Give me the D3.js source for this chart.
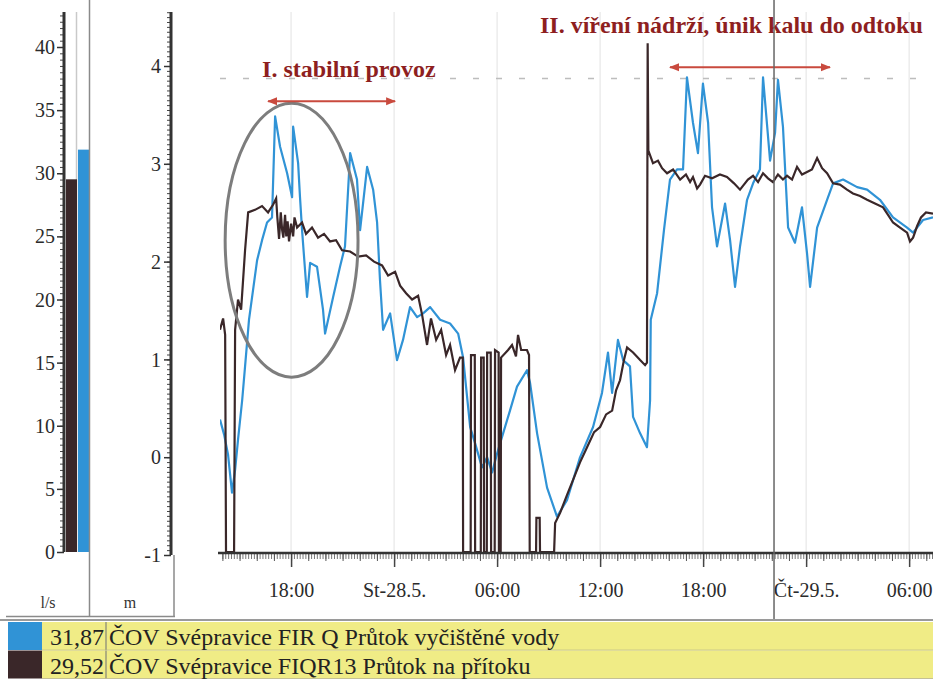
<!DOCTYPE html>
<html>
<head>
<meta charset="utf-8">
<script src="https://cdn.jsdelivr.net/npm/d3@7"></script>
<style>
  body { margin: 0; background: #fff; }
  text { font-family: "Liberation Serif", "DejaVu Serif", serif; }
</style>
</head>
<body>
<svg id="chart" width="933" height="679"></svg>
<script>
// [hours from 27.5. 00:00, l/s]
const inflowPoints = [
  [13.86,17.6],[14.04,18.5],[14.16,17.2],[14.21,0],[14.68,0],[14.74,17.6],[14.91,20.0],[15.09,19.2],
  [15.32,23.9],[15.50,26.9],[15.90,27.1],[16.31,27.4],[16.66,26.9],[16.95,27.5],[17.13,28.0],[17.20,26.5],
  [17.30,24.8],[17.40,26.9],[17.48,25.5],[17.55,24.9],[17.65,26.7],[17.72,25.0],[17.80,26.2],[17.88,24.6],
  [18.00,26.0],[18.12,25.0],[18.20,26.5],[18.35,25.7],[18.64,26.1],[18.87,25.2],[19.22,25.7],
  [19.57,24.9],[19.92,25.2],[20.27,24.6],[20.62,24.7],[20.97,23.9],[21.44,23.8],[21.90,23.4],[22.37,23.5],
  [22.83,23.0],[23.30,22.7],[23.65,21.9],[24.06,22.2],[24.35,21.1],[24.70,20.5],[25.05,20.0],[25.40,20.3],
  [25.63,18.8],[25.92,16.4],[26.15,18.5],[26.45,16.8],[26.74,17.6],[27.03,15.6],[27.26,16.4],[27.55,14.4],
  [27.84,15.4],[28.00,15.4],[28.02,0],[28.46,0],[28.48,15.6],[28.70,15.6],[28.72,0],[29.05,0],
  [29.07,15.4],[29.22,15.4],[29.24,0],[29.40,0],[29.42,15.8],[29.63,15.8],[29.65,0],[29.86,0],
  [29.88,16.0],[30.09,15.8],[30.11,0],[30.21,0],[30.23,15.4],[30.64,16.0],[30.87,16.4],[31.10,15.5],
  [31.22,17.2],[31.40,16.0],[31.74,16.0],[31.86,15.6],[31.90,0],[32.27,0],[32.29,2.7],[32.48,2.7],
  [32.50,0],[33.32,0],[33.38,2.3],[33.67,3.1],[34.07,4.5],[34.42,5.7],[34.83,7.1],[35.24,8.3],
  [35.65,9.5],[36.00,9.9],[36.35,10.9],[36.70,11.2],[36.93,12.8],[37.16,13.6],[37.39,15.2],[37.57,16.2],
  [37.92,15.8],[38.33,15.2],[38.62,14.8],[38.73,15.0],[38.77,40.3],[38.81,31.8],[39.08,30.8],[39.37,31.0],
  [39.61,30.4],[39.90,30.0],[40.25,30.3],[40.66,29.5],[41.00,29.9],[41.24,29.3],[41.41,29.7],[41.65,28.8],
  [41.82,29.1],[42.11,29.8],[42.52,29.6],[42.98,29.9],[43.39,29.7],[43.80,29.2],[44.15,28.7],[44.32,29.0],
  [44.61,29.5],[44.91,29.8],[45.20,29.3],[45.49,30.0],[45.78,29.6],[46.07,29.3],[46.36,29.9],[46.65,29.5],
  [46.89,29.8],[47.18,29.5],[47.47,30.5],[47.76,29.9],[48.05,30.1],[48.34,30.3],[48.64,31.2],[48.93,30.4],
  [49.22,30.0],[49.57,29.2],[49.97,29.1],[50.38,28.7],[50.73,28.4],[51.14,28.2],[51.55,27.9],[52.01,27.6],
  [52.48,27.3],[52.77,26.7],[53.06,26.1],[53.47,25.7],[53.88,25.3],[54.05,24.6],[54.23,24.9],[54.46,25.8],
  [54.69,26.5],[54.98,26.9],[55.39,26.8]
];

const outflowPoints = [
  [13.86,10.5],[14.10,9.3],[14.33,7.7],[14.56,4.7],[14.74,6.5],[14.91,8.9],[15.15,12.0],[15.32,14.7],
  [15.55,18.4],[15.79,20.8],[16.02,23.1],[16.31,24.7],[16.60,26.1],[16.89,26.5],[17.07,34.5],[17.36,32.1],
  [17.77,30.0],[18.06,28.1],[18.12,33.7],[18.41,30.8],[18.52,28.1],[18.64,25.5],[18.93,20.2],[19.11,22.9],
  [19.51,22.6],[19.86,19.2],[19.98,17.3],[20.45,20.2],[20.85,22.6],[21.14,24.2],[21.44,31.6],[21.84,29.5],
  [22.02,25.5],[22.43,30.5],[22.78,28.7],[23.01,26.1],[23.18,21.5],[23.36,17.6],[23.77,18.9],[24.17,15.2],
  [24.52,16.8],[24.93,19.4],[25.34,18.6],[25.69,18.9],[26.10,19.4],[26.68,18.4],[27.26,18.1],[27.73,17.3],
  [28.02,15.4],[28.43,9.9],[28.72,8.6],[29.12,6.7],[29.42,7.5],[29.71,6.3],[30.00,7.8],[30.35,9.4],
  [30.75,11.2],[31.16,13.1],[31.74,14.4],[31.92,13.4],[32.33,9.4],[32.91,5.1],[33.49,2.8],[34.07,4.1],
  [34.83,7.5],[35.59,9.9],[36.11,12.6],[36.46,15.8],[36.70,12.6],[37.04,16.8],[37.34,15.2],[37.74,14.7],
  [37.92,10.7],[38.33,9.4],[38.73,8.3],[38.91,12.0],[38.95,18.4],[39.32,20.5],[39.72,25.5],[40.07,29.5],
  [40.48,30.3],[40.83,30.3],[41.06,37.6],[41.41,34.0],[41.70,31.6],[41.99,37.1],[42.29,34.0],[42.52,27.3],
  [42.81,24.2],[43.28,27.6],[43.57,24.7],[43.86,21.0],[44.15,24.2],[44.56,27.9],[44.91,29.2],[45.31,30.3],
  [45.49,37.6],[45.90,31.0],[46.19,33.2],[46.36,37.4],[46.65,33.7],[46.95,25.7],[47.35,24.5],[47.76,27.3],
  [48.05,23.7],[48.23,21.0],[48.64,25.7],[49.22,27.9],[49.57,29.2],[50.15,29.5],[50.97,28.9],[51.55,28.7],
  [52.30,27.9],[53.06,26.5],[53.88,25.7],[54.23,25.3],[54.81,26.3],[55.39,26.5]
];

const seriesKeys = ['outflow', 'inflow'];
const seriesNames = ['ČOV Svépravice FIR Q Průtok vyčištěné vody', 'ČOV Svépravice FIQR13 Průtok na přítoku'];
const currentValues = [31.87, 29.52];
const weekdays = ['Ne', 'Po', 'Út', 'St', 'Čt', 'Pá', 'So'];
const flowTicks = [0, 5, 10, 15, 20, 25, 30, 35, 40];
const levelTicks = [-1, 0, 1, 2, 3, 4];
const viewHours = [13.86, 55.39];
const cursorHour = 46.13;
const limitFlow = 37.5;
const annotations = [
  {label: 'I. stabilní provoz', textHour: 16.31, textFlow: 37.6, from: 16.66, to: 24.06, arrowFlow: 35.7},
  {label: 'II. víření nádrží, únik kalu do odtoku', textHour: 32.5, textFlow: 41.1, from: 40.07, to: 49.39, arrowFlow: 38.4}
];
const highlight = {hour: 18.03, flow: 24.7, hourRadius: 3.87, flowRadius: 10.85};

const colors = {outflow: '#3093d6', inflow: '#3a2729'};
const serif = '"Liberation Serif", "DejaVu Serif", serif';

const day0 = new Date(2014, 4, 27);
const toDate = h => new Date(day0.getTime() + h * 3600e3);

const svg = d3.select('#chart');

// scales
const x = d3.scaleTime().domain(viewHours.map(toDate)).range([220, 933]);
const yFlow = d3.scaleLinear().domain([0, 40]).range([552, 47]);
const yLevel = d3.scaleLinear().domain([-1, 4]).range([555, 66]);
const plotTop = 12;
const plotBottom = 553;

const tickFormat = d => d.getHours() === 0
  ? `${weekdays[d.getDay()]}-${d.getDate()}.${d.getMonth() + 1}.`
  : d3.timeFormat('%H:%M')(d);

// vertical grid
const majorTicks = x.ticks(d3.timeHour.every(6));
svg.append('g').selectAll('line')
  .data(majorTicks)
  .join('line')
  .attr('x1', d => x(d)).attr('x2', d => x(d))
  .attr('y1', plotTop).attr('y2', plotBottom)
  .attr('stroke', '#e2e2e2');

// limit line
svg.append('line')
  .attr('x1', 220).attr('x2', 933)
  .attr('y1', yFlow(limitFlow)).attr('y2', yFlow(limitFlow))
  .attr('stroke', '#bdbdbd')
  .attr('stroke-width', 1.5)
  .attr('stroke-dasharray', '6 17');

// lines
svg.append('clipPath').attr('id', 'plotClip')
  .append('rect').attr('x', 220).attr('y', 0).attr('width', 713).attr('height', plotBottom);

const line = d3.line()
  .x(d => x(toDate(d[0])))
  .y(d => yFlow(d[1]));

const lines = svg.append('g').attr('clip-path', 'url(#plotClip)');
lines.append('path')
  .attr('d', line(outflowPoints))
  .attr('fill', 'none')
  .attr('stroke', colors.outflow)
  .attr('stroke-width', 2.2)
  .attr('stroke-linejoin', 'round');
lines.append('path')
  .attr('d', line(inflowPoints))
  .attr('fill', 'none')
  .attr('stroke', colors.inflow)
  .attr('stroke-width', 2.2);

// styles the label texts of an axis group
const styleAxisText = (g, size) => g
  .attr('font-family', null).attr('font-size', null)
  .selectAll('text')
  .attr('fill', '#2b2b2b')
  .style('font-family', serif)
  .style('font-size', size);

// x axis, minor ticks first
const xAxisG = svg.append('g').attr('transform', `translate(0,${plotBottom})`);
xAxisG.append('g')
  .call(d3.axisBottom(x).ticks(d3.timeMinute.every(10)).tickSize(6).tickSizeOuter(0).tickFormat(''))
  .call(g => g.selectAll('line').attr('stroke', '#777'));
xAxisG.append('g')
  .call(d3.axisBottom(x).ticks(d3.timeHour.every(1)).tickSize(8).tickSizeOuter(0).tickFormat(''))
  .call(g => g.selectAll('line').attr('stroke', '#555'));
xAxisG.append('g')
  .call(d3.axisBottom(x).ticks(d3.timeHour.every(6)).tickSize(14).tickSizeOuter(0).tickPadding(30).tickFormat(tickFormat))
  .call(g => g.selectAll('line').attr('stroke', '#444').attr('stroke-width', 1.5))
  .call(g => styleAxisText(g, '20px').attr('dy', 0));
xAxisG.selectAll('.domain').remove();
xAxisG.append('line')
  .attr('x1', 218).attr('x2', 933)
  .attr('stroke', '#333').attr('stroke-width', 2.5);

// flow axis (l/s) with bars
const flowAxis = svg.append('g').attr('transform', 'translate(64,0)');
flowAxis.append('g')
  .call(d3.axisLeft(yFlow).tickValues(d3.range(0, 42.6, 0.5)).tickSize(4).tickFormat(''))
  .call(g => g.selectAll('line').attr('stroke', '#444'));
flowAxis.append('g')
  .call(d3.axisLeft(yFlow).tickValues(flowTicks).tickSize(7).tickPadding(2).tickFormat(d => String(d)))
  .call(g => g.selectAll('line').attr('stroke', '#333').attr('stroke-width', 1.5))
  .call(g => styleAxisText(g, '20px').attr('dy', '0.33em'));
flowAxis.selectAll('.domain').remove();
flowAxis.append('line')
  .attr('y1', plotTop).attr('y2', yFlow(0))
  .attr('stroke', '#333').attr('stroke-width', 3);

const xBar = d3.scaleBand().domain(['inflow', 'outflow']).range([66, 89]).paddingInner(0.08);

svg.append('line')
  .attr('x1', 76.5).attr('x2', 76.5).attr('y1', plotTop).attr('y2', yFlow(0))
  .attr('stroke', '#c9c9c9').attr('stroke-width', 1.5);

svg.append('g').selectAll('rect')
  .data(seriesKeys.map((k, i) => ({key: k, value: currentValues[i]})))
  .join('rect')
  .attr('x', d => xBar(d.key))
  .attr('width', xBar.bandwidth())
  .attr('y', d => yFlow(d.value))
  .attr('height', d => yFlow(0) - yFlow(d.value))
  .attr('fill', d => colors[d.key]);

// level axis (m)
const levelAxis = svg.append('g').attr('transform', 'translate(171,0)');
levelAxis.append('g')
  .call(d3.axisLeft(yLevel).tickValues(d3.range(-1, 4.56, 0.05)).tickSize(4).tickFormat(''))
  .call(g => g.selectAll('line').attr('stroke', '#444'));
levelAxis.append('g')
  .call(d3.axisLeft(yLevel).tickValues(levelTicks).tickSize(7).tickPadding(3).tickFormat(d => String(d)))
  .call(g => g.selectAll('line').attr('stroke', '#333').attr('stroke-width', 1.5))
  .call(g => styleAxisText(g, '20px').attr('dy', '0.33em'));
levelAxis.selectAll('.domain').remove();
levelAxis.append('line')
  .attr('y1', plotTop).attr('y2', yLevel(-1))
  .attr('stroke', '#333').attr('stroke-width', 3);

// panel frames and unit labels
svg.append('line').attr('x1', 89.5).attr('x2', 89.5).attr('y1', 0).attr('y2', 617)
  .attr('stroke', '#8a8a8a').attr('stroke-width', 1.5);
svg.append('line').attr('x1', 174).attr('x2', 174).attr('y1', yLevel(-1)).attr('y2', 617)
  .attr('stroke', '#8a8a8a').attr('stroke-width', 1.5);
svg.append('line').attr('x1', 6).attr('x2', 175).attr('y1', 616.5).attr('y2', 616.5)
  .attr('stroke', '#8a8a8a').attr('stroke-width', 1.5);
svg.append('text').attr('x', 48).attr('y', 608).attr('text-anchor', 'middle')
  .style('font-family', serif).style('font-size', '16px').attr('fill', '#333').text('l/s');
svg.append('text').attr('x', 130).attr('y', 608).attr('text-anchor', 'middle')
  .style('font-family', serif).style('font-size', '16px').attr('fill', '#333').text('m');

// annotations
svg.append('ellipse')
  .attr('cx', x(toDate(highlight.hour)))
  .attr('cy', yFlow(highlight.flow))
  .attr('rx', x(toDate(highlight.hour + highlight.hourRadius)) - x(toDate(highlight.hour)))
  .attr('ry', yFlow(0) - yFlow(highlight.flowRadius))
  .attr('fill', 'none')
  .attr('stroke', '#7d7d7d')
  .attr('stroke-width', 3);

const defs = svg.append('defs');
defs.append('marker')
  .attr('id', 'arrowHead')
  .attr('viewBox', '0 0 10 10')
  .attr('refX', 9).attr('refY', 5)
  .attr('markerWidth', 5).attr('markerHeight', 5)
  .attr('orient', 'auto-start-reverse')
  .append('path').attr('d', 'M0,1 L10,5 L0,9 Z').attr('fill', '#c94a3e');

svg.append('g').selectAll('line')
  .data(annotations)
  .join('line')
  .attr('x1', d => x(toDate(d.from))).attr('x2', d => x(toDate(d.to)))
  .attr('y1', d => yFlow(d.arrowFlow)).attr('y2', d => yFlow(d.arrowFlow))
  .attr('stroke', '#c94a3e')
  .attr('stroke-width', 2)
  .attr('marker-start', 'url(#arrowHead)')
  .attr('marker-end', 'url(#arrowHead)');

svg.append('g').selectAll('text')
  .data(annotations)
  .join('text')
  .attr('x', d => x(toDate(d.textHour)))
  .attr('y', d => yFlow(d.textFlow))
  .attr('fill', '#8e1f1f')
  .style('font-family', serif)
  .style('font-size', '24px')
  .style('font-weight', 'bold')
  .text(d => d.label);

// cursor
svg.append('line')
  .attr('x1', x(toDate(cursorHour))).attr('x2', x(toDate(cursorHour)))
  .attr('y1', 0).attr('y2', 621)
  .attr('stroke', '#666').attr('stroke-width', 1.5);

// legend rows
svg.append('line').attr('x1', 0).attr('x2', 933).attr('y1', 620).attr('y2', 620)
  .attr('stroke', '#9a9a9a').attr('stroke-width', 2);

const rows = svg.append('g').selectAll('g')
  .data(seriesKeys.map((k, i) => ({key: k, name: seriesNames[i], value: currentValues[i]})))
  .join('g')
  .attr('transform', (d, i) => `translate(0,${622 + i * 28.5})`);

rows.append('rect').attr('x', 8).attr('width', 34).attr('height', 28)
  .attr('fill', d => colors[d.key]);
rows.append('rect').attr('x', 42).attr('width', 891).attr('height', 28)
  .attr('fill', '#f0ec86');
rows.append('line').attr('x1', 106).attr('x2', 106).attr('y1', 0).attr('y2', 28)
  .attr('stroke', '#9a9a7a').attr('stroke-width', 1.5);
rows.append('line').attr('x1', 42).attr('x2', 933).attr('y1', 28.2).attr('y2', 28.2)
  .attr('stroke', '#b8b48a').attr('stroke-width', 1);
rows.append('text').attr('x', 104).attr('y', 23).attr('text-anchor', 'end')
  .style('font-family', serif).style('font-size', '24px').attr('fill', '#222')
  .text(d => d3.format('.2f')(d.value).replace('.', ','));
rows.append('text').attr('x', 109).attr('y', 23)
  .style('font-family', serif).style('font-size', '24px').attr('fill', '#222')
  .text(d => d.name);
</script>
</body>
</html>
